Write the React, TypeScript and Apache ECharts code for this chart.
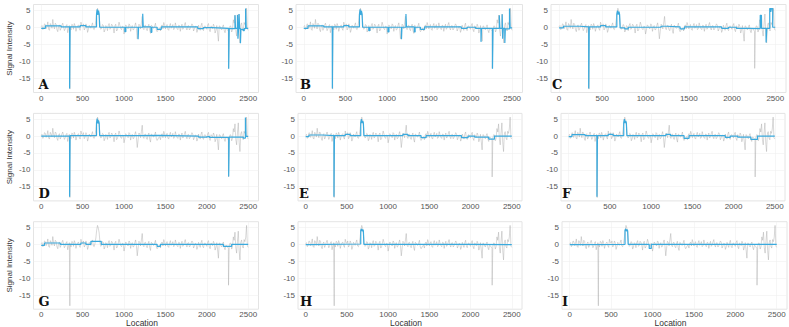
import { useEffect, useRef } from "react";
import * as echarts from "echarts";

// ---------- data ----------
const xTickValues = [0, 500, 1000, 1500, 2000, 2500];
const yTickValues = [-15, -10, -5, 0, 5];
const panelLetters = ["A", "B", "C", "D", "E", "F", "G", "H", "I"];
const yTitle = "Signal Intensity";
const xTitle = "Location";

// raw signal, one value every 20 locations (0..2500)
const RAW_STEP = 20;
const rawValues = [
  0.2, -0.7, 1.0, -0.4, 1.6, -0.9, 0.6, 2.3, -0.5, 0.9,
  -1.3, 0.7, -0.3, 1.2, -1.0, 0.4, -1.6, 0.5, -0.8, 0.7,
  1.1, -1.2, 0.4, -0.4, 1.5, 0.3, -0.8, 1.0, -1.5, 0.6,
  -0.3, 1.3, -0.7, 1.9, 5.6, 3.4, -0.6, 0.8, -1.4, 0.5,
  -1.0, 1.1, -0.3, 0.6, -1.7, 0.9, -0.8, 1.5, -0.4, 0.3,
  -2.0, 0.7, -0.2, 1.0, -1.2, 0.5, -0.6, 1.3, -3.4, 0.9,
  -0.5, 3.2, -0.7, 0.6, -1.0, 0.9, -1.8, 0.4, -0.3, 1.2,
  -1.3, -0.4, -1.1, 0.7, 1.4, -0.5, 0.8, -0.9, 1.1, 0.1,
  -0.7, 1.3, -0.4, 0.6, -1.2, 0.9, -0.2, 1.4, -0.8, 0.5,
  -0.4, 1.0, -1.1, 0.3, -1.5, 0.6, -0.9, 1.2, -1.0, 0.4,
  -0.6, 1.1, -1.3, 0.2, 0.9, -1.7, 0.5, -4.1, 0.3, -0.8,
  0.7, -1.6, -0.4, -1.2, 0.4, -1.4, 2.2, 3.6, -2.6, 3.9,
  -4.6, 1.3, -1.1, 0.8, 5.6, -0.9,
];
// raw signal between those, at locations 10, 30, 50, ... 2490
const rawValuesMid = [
  0.5, -0.2, 0.8, 0.3, -0.6, 1.1, -0.3, 0.4, 1.2, -0.7,
  0.3, -0.9, 0.6, 0.1, -0.5, 0.8, -0.4, 0.2, 0.9, -0.6,
  0.4, -0.2, 0.7, -0.9, 0.5, 1.0, -0.3, 0.4, -0.7, 0.2,
  0.6, -0.5, 0.3, 4.2, 4.8, 0.5, -0.3, 0.6, -0.8, 0.2,
  0.5, -0.6, 0.9, -0.2, 0.4, -1.1, 0.3, 0.6, -0.7, 0.2,
  -0.9, 0.4, -0.5, 0.7, 0.1, -0.8, 0.5, -0.4, -1.2, 0.6,
  1.3, -0.3, 0.5, -0.6, 0.2, -0.9, 0.6, -0.2, 0.4, -0.7,
  -0.9, -0.2, 0.3, -0.5, 0.6, 0.2, -0.6, 0.4, -0.3, 0.8,
  -0.4, 0.3, -0.7, 0.5, 0.1, -0.6, 0.7, -0.2, 0.4, -0.8,
  0.3, 0.6, -0.5, 0.2, -0.8, -0.2, 0.5, -0.6, 0.3, -0.2,
  0.6, -0.7, 0.4, -0.4, 0.3, -0.9, -1.6, 0.4, -0.5, 0.2,
  -0.9, -0.3, -0.8, -0.6, 0.3, -0.7, 1.2, -1.0, 0.9, -1.8,
  0.6, -0.6, 1.4, 2.1, -0.5,
];
const rawSpikes: [number, number][] = [
  [346, -18.2],
  [2262, -12.1],
];

// segmented signals: [location, value] change points (value held until next point)
const blueA: [number, number][] = [
  [0, -0.3], [50, 0.4], [240, 0.1], [343, -18], [349, 0.1], [470, 0.5], [540, 0.1],
  [668, 3.8], [676, 5.3], [684, 3.6], [692, 4.9], [700, 3.9], [706, 0.0],
  [1010, -1.3], [1022, 0.0], [1170, -3.5], [1176, 0.0], [1226, 4.0], [1232, 0.1],
  [1326, -1.5], [1336, 0.0], [1400, -0.6], [1450, 0.1], [1890, -0.4], [1960, -0.1],
  [2060, -0.3], [2264, -12.2], [2270, -0.4], [2340, 3.5], [2346, -0.3], [2370, 3.6],
  [2376, -3.4], [2384, -0.3], [2390, 3.9], [2396, -0.4], [2406, -4.7], [2412, -0.6],
  [2440, -1.0], [2452, -0.4], [2468, 5.5], [2476, -0.3], [2500, -0.3],
];
const blueB: [number, number][] = [
  [0, -0.3], [50, 0.4], [240, 0.1], [343, -18], [349, 0.1], [480, 0.5], [540, 0.1],
  [668, 3.8], [676, 5.3], [684, 3.6], [692, 4.8], [700, 3.9], [706, 0.0],
  [780, -1.0], [792, 0.0], [1010, -1.4], [1022, 0.0], [1172, -3.5], [1178, 0.0],
  [1226, 3.9], [1232, 0.1], [1326, -1.4], [1336, 0.0], [1400, -0.6], [1450, 0.1],
  [1890, -0.3], [1960, 0.0], [2060, -0.3], [2126, -4.3], [2132, -0.3], [2264, -12.2],
  [2270, -0.3], [2346, 3.5], [2352, -0.3], [2380, 3.8], [2386, -3.4], [2394, -0.3],
  [2412, -4.6], [2418, -0.5], [2468, 5.5], [2476, -0.2], [2500, -0.2],
];
const blueC: [number, number][] = [
  [0, -0.2], [50, 0.3], [240, 0.1], [343, -18], [349, 0.1], [480, 0.5], [540, 0.1],
  [668, 3.8], [676, 4.9], [684, 3.7], [692, 4.6], [700, 3.8], [706, -0.2],
  [760, -0.5], [800, 0.0], [1180, 0.3], [1240, 0.1], [1400, -0.5], [1450, 0.1],
  [1880, -0.3], [1960, 0.0], [2050, -0.3], [2200, -0.4], [2326, 3.5], [2340, -0.3],
  [2394, -4.5], [2402, -0.3], [2436, 5.5], [2448, 4.5], [2456, 5.5], [2470, 0.0],
  [2500, 0.0],
];
const blueD: [number, number][] = [
  [0, 0.0], [343, -18], [349, 0.1], [668, 3.9], [676, 5.2], [684, 3.7], [692, 4.6],
  [700, 3.8], [706, 0.1], [1180, 0.2], [1420, 0.0], [1900, -0.3], [1990, -0.1],
  [2030, -0.4], [2264, -12.0], [2270, -0.3], [2440, -0.6], [2466, 5.5], [2474, -0.1],
  [2500, -0.1],
];
const blueE: [number, number][] = [
  [0, -0.2], [40, 0.3], [200, 0.1], [343, -18], [349, 0.1], [480, 0.5], [540, 0.1],
  [668, 3.9], [676, 5.0], [684, 3.8], [692, 4.5], [700, 3.9], [706, 0.1],
  [1180, 0.5], [1240, 0.1], [1400, -0.5], [1460, 0.1], [1890, -0.5], [1970, 0.0],
  [2050, -0.3], [2220, -0.9], [2290, 0.0], [2500, 0.0],
];
const blueF: [number, number][] = [
  [0, -0.2], [40, 0.4], [200, 0.1], [343, -18], [349, 0.1], [480, 0.5], [540, 0.1],
  [668, 3.9], [676, 5.0], [684, 3.8], [692, 4.5], [700, 3.9], [706, 0.1],
  [1180, 0.5], [1235, 0.1], [1400, -0.7], [1460, 0.1], [1900, -0.4], [1960, 0.0],
  [2050, -0.3], [2210, -1.0], [2290, 0.0], [2500, 0.0],
];
const blueG: [number, number][] = [
  [0, -0.3], [40, 0.4], [230, 0.0], [480, 0.4], [540, 0.0], [600, 0.9], [725, 0.0],
  [1400, -0.6], [1440, 0.0], [2200, -0.6], [2300, 0.0], [2500, 0.0],
];
const blueH: [number, number][] = [
  [0, -0.1], [30, 0.1], [668, 4.1], [676, 4.6], [684, 3.9], [692, 4.4], [700, 4.0],
  [706, 0.0], [1500, 0.0], [2000, -0.1], [2500, -0.1],
];
const blueI: [number, number][] = [
  [0, -0.1], [30, 0.0], [668, 4.1], [676, 4.6], [684, 3.9], [692, 4.4], [700, 4.0],
  [706, 0.0], [960, -1.2], [985, 0.0], [2500, 0.0],
];
const blueSets = [blueA, blueB, blueC, blueD, blueE, blueF, blueG, blueH, blueI];

// ---------- layout ----------
const X_MIN = -93;
const X_MAX = 2624;
const Y_MIN = -19.2;
const Y_MAX = 6.7;
const panels = [
  { left: 33.5, top: 4.5, width: 225, height: 88, lx: 5 },
  { left: 296, top: 4.5, width: 226.5, height: 88, lx: 4 },
  { left: 551, top: 4.5, width: 235, height: 88, lx: 1 },
  { left: 33.5, top: 113.4, width: 225, height: 87.5, lx: 5 },
  { left: 298, top: 113.4, width: 224, height: 87.5, lx: 1 },
  { left: 561, top: 113.4, width: 224, height: 87.5, lx: 1 },
  { left: 33.5, top: 221.7, width: 225, height: 87.5, lx: 5 },
  { left: 298, top: 221.7, width: 224, height: 87.5, lx: 2 },
  { left: 562, top: 221.7, width: 225, height: 87.5, lx: 0 },
];

const BLUE = "#3aaade";
const GREY = "#a8a8a8";
const TICK = "#555555";
const FONT = '"Liberation Sans", Arial, sans-serif';

function buildRaw(): [number, number][] {
  const pts: [number, number][] = rawValues.map((v, i) => [i * RAW_STEP, v]);
  rawValuesMid.forEach((v, i) => pts.push([i * RAW_STEP + RAW_STEP / 2, v]));
  rawSpikes.forEach((p) => pts.push([p[0], p[1]]));
  pts.sort((a, b) => a[0] - b[0]);
  return pts;
}

export default function App() {
  const ref = useRef<HTMLDivElement>(null);
  useEffect(() => {
    if (!ref.current) return;
    const chart = echarts.init(ref.current, null, { renderer: "svg" });
    const raw = buildRaw();
    const grids: any[] = [];
    const xAxes: any[] = [];
    const yAxes: any[] = [];
    const series: any[] = [];
    const graphics: any[] = [];
    panels.forEach((p, i) => {
      grids.push({
        left: p.left,
        top: p.top,
        width: p.width,
        height: p.height,
        show: true,
        borderColor: "#e4e4e4",
        borderWidth: 1,
        backgroundColor: "#ffffff",
      });
      xAxes.push({
        gridIndex: i,
        type: "value",
        min: X_MIN,
        max: X_MAX,
        axisLine: { show: false },
        axisTick: { show: false, customValues: xTickValues },
        axisLabel: {
          customValues: xTickValues,
          formatter: (v: number) => String(v),
          fontSize: 8,
          color: TICK,
          margin: 1.5,
          fontFamily: FONT,
        },
        splitLine: { show: true, lineStyle: { color: "#f0f0f0", width: 0.6 } },
      });
      yAxes.push({
        gridIndex: i,
        type: "value",
        min: Y_MIN,
        max: Y_MAX,
        axisLine: { show: false },
        axisTick: { show: false, customValues: yTickValues },
        axisLabel: {
          customValues: yTickValues,
          formatter: (v: number) => String(v),
          fontSize: 8,
          color: TICK,
          margin: 3,
          fontFamily: FONT,
        },
        splitLine: { show: true, lineStyle: { color: "#f0f0f0", width: 0.6 } },
      });
      series.push({
        type: "line",
        xAxisIndex: i,
        yAxisIndex: i,
        data: raw,
        symbol: "none",
        silent: true,
        lineStyle: { color: GREY, width: 0.55, opacity: 0.8 },
        z: 2,
      });
      series.push({
        type: "line",
        xAxisIndex: i,
        yAxisIndex: i,
        data: blueSets[i],
        step: "end",
        symbol: "none",
        silent: true,
        lineStyle: { color: BLUE, width: 1.2 },
        z: 3,
      });
      const bottom = p.top + p.height;
      graphics.push({
        type: "text",
        x: p.left + p.lx,
        y: bottom - 7.8,
        z: 10,
        style: {
          text: panelLetters[i],
          font: 'bold 13px "DejaVu Serif", serif',
          fill: "#111111",
          verticalAlign: "middle",
          align: "left",
        },
      });
      if (i % 3 === 0) {
        graphics.push({
          type: "text",
          x: 9.5,
          y: p.top + p.height / 2,
          rotation: Math.PI / 2,
          style: {
            text: yTitle,
            font: '8px "Liberation Sans", Arial, sans-serif',
            fill: "#333333",
            align: "center",
            verticalAlign: "middle",
          },
        });
      }
      if (i >= 6) {
        graphics.push({
          type: "text",
          x: p.left + p.width / 2 - 4,
          y: 323,
          style: {
            text: xTitle,
            font: '8.5px "Liberation Sans", Arial, sans-serif',
            fill: "#333333",
            align: "center",
            verticalAlign: "middle",
          },
        });
      }
    });
    chart.setOption({
      animation: false,
      backgroundColor: "#ffffff",
      grid: grids,
      xAxis: xAxes,
      yAxis: yAxes,
      series,
      graphic: graphics,
    });
    return () => chart.dispose();
  }, []);
  return (
    <div
      ref={ref}
      style={{ position: "absolute", left: 0, top: 0, width: 789, height: 327 }}
    />
  );
}
